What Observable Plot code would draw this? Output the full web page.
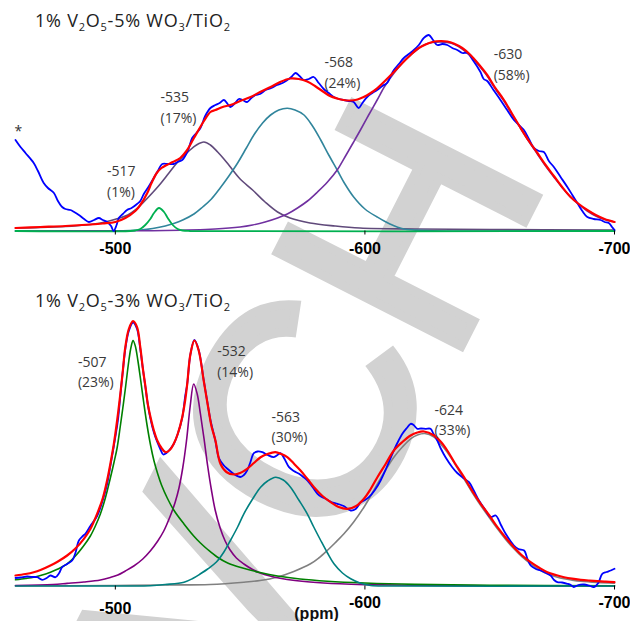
<!DOCTYPE html>
<html><head><meta charset="utf-8">
<script src="https://cdn.jsdelivr.net/npm/d3@7"></script>
<script src="https://cdn.jsdelivr.net/npm/@observablehq/plot@0.6"></script>
<style>
body{margin:0;background:#fff;}
#wrap{position:relative;width:630px;height:621px;overflow:hidden;background:#fff;}
#wm,#top,#bot{position:absolute;left:0;}
#wm{top:0;} #top{top:0;} #bot{top:265px;}
</style></head>
<body><div id="wrap"><svg id="wm" width="630" height="621"></svg><div id="top"></div><div id="bot"></div></div>
<script>
// ---------- data: [ppm, intensity] ----------
const topBlue = [[-460,91],[-462,84],[-464,78],[-467.3,68],[-469,60],[-471.3,48],[-473,43],[-475.4,38],[-477,30],[-478.7,24],[-480,22],[-482,21],[-483.5,19],[-485.4,16],[-487.5,12],[-489.4,9],[-491.5,11],[-493.4,13],[-495,11],[-496.7,9],[-498.3,5],[-499.3,0],[-500.5,6],[-501.4,13],[-503,17],[-504.7,21],[-506.5,23],[-508.7,27],[-510,30],[-511.4,37],[-513.5,45],[-515.4,53],[-517,60],[-518.8,67],[-521,67],[-523.4,67],[-525,69],[-526.8,71],[-529,80],[-530.8,93],[-532.5,98],[-534.1,103],[-536,115],[-538.1,123],[-540.1,126],[-541.8,128],[-543.5,131],[-545,127],[-546.1,124],[-548,128],[-549.5,132],[-551,131],[-552.8,129],[-554.5,133],[-556.2,136],[-558,137],[-560.2,141],[-562.5,143],[-564.8,146],[-567,148],[-568.9,151],[-570.5,154],[-572.2,158],[-573.8,155],[-575.5,151],[-577.5,152],[-579.5,154],[-581.5,148],[-583.5,142],[-585.5,138],[-587.5,134],[-589.5,132],[-591.5,131],[-593.5,130],[-595.5,129],[-597.5,123],[-599,128],[-600.9,134],[-603,138],[-604.9,141],[-607,145],[-608.9,148],[-610.3,155],[-611.6,161],[-613.6,167],[-615.6,173],[-617.6,177],[-619.6,181],[-621.6,186],[-623.6,193],[-625.6,196],[-627.3,191],[-629,186],[-631,187],[-633,186],[-635,183],[-637,181],[-639,178],[-641,178],[-643.5,170],[-646.3,159],[-647.6,152],[-649,150],[-651.5,141],[-654.3,131],[-657,121],[-659.7,111],[-661.7,106],[-663.7,101],[-665.7,92],[-667.7,83],[-669.7,80],[-671.7,79],[-673.7,70],[-675.7,64],[-678.4,54],[-681.1,44],[-683.1,36],[-685.1,28],[-687.1,20],[-689.1,14],[-691.7,12],[-694.4,11],[-696,9],[-697.7,8],[-699,4],[-700,1]];
const topRed = [[-460,3],[-470,4],[-480,5],[-490,6.5],[-495,7.5],[-500,9],[-504,13],[-508,20],[-510,26],[-512.8,38],[-514.5,48],[-516.6,58],[-518.5,63],[-520.6,66],[-523,69],[-526,73],[-528.5,80],[-531.5,93],[-535.5,110],[-538.1,119],[-540.1,121],[-543,124],[-546.1,126],[-550,130],[-554.2,134],[-558,139],[-562.2,144],[-566,149],[-570.2,152.5],[-573.5,152],[-576.9,149.5],[-580,145],[-583.5,139],[-586,135],[-588.9,132.5],[-591.5,131],[-594.2,130.5],[-597,131.5],[-599.5,134],[-602,137.5],[-604.9,142.7],[-608,150],[-611.6,159],[-615,168],[-618.3,176],[-621,182],[-624.3,186.5],[-627,189],[-630.3,190],[-633,189.5],[-635.6,187.5],[-639,183],[-642.3,176],[-645.5,167],[-649,156],[-652,144],[-655.7,131],[-659,117],[-662.4,103],[-665.7,90],[-669.1,78],[-672.4,66],[-675.7,55],[-679,44],[-682.4,34],[-685.7,27],[-689.1,21],[-692.5,16],[-696,12],[-700,9]];
const top630 = [[-460,0],[-500,0.3],[-520,0.5],[-540,2],[-550,4],[-555,6],[-560,9],[-565,13],[-568.9,17],[-573,23],[-577,30],[-581,39],[-585,49],[-588.9,61],[-592,74],[-595,87],[-598.2,101],[-601.5,116],[-604.9,131],[-608,145],[-611.6,157.7],[-615,168],[-618.3,176],[-621,181.5],[-623.6,186],[-627,188.5],[-630,189],[-633,188.5],[-636,186.5],[-639,182],[-642.3,175],[-645.5,166],[-649,155],[-652,143],[-655.7,130],[-659,116.5],[-662.4,102.5],[-665.7,89.5],[-669.1,77],[-672.4,65],[-675.7,54],[-679,43.5],[-682.4,34],[-685.7,26.5],[-689.1,20],[-692.5,15],[-696,11.5],[-700,9]];
const top568 = [[-460,0],[-500,0],[-510,1],[-515,2.5],[-520,5],[-523.4,7.5],[-527,11],[-531.5,17],[-535,24],[-538.5,32],[-542,43],[-545.5,55],[-549,68],[-552.5,83],[-555.5,96],[-559,108],[-562.2,116],[-565.5,121],[-568.9,122.7],[-572,121],[-575.6,116],[-579,105],[-582.3,91],[-585.5,76],[-588.9,61],[-592,47],[-595.5,34],[-600,22],[-604.9,14],[-610,7],[-615.6,2],[-625,0.5],[-640,0],[-700,0]];
const top535 = [[-460,3],[-470,3.5],[-480,4.5],[-488,6],[-495,8.5],[-501.4,12.7],[-505,16],[-508,21],[-511,28],[-514.7,37.7],[-518,47],[-521.4,57.7],[-525,69],[-529.5,80],[-532.5,86],[-535.5,89],[-538.1,86],[-541,79],[-543.5,72],[-546.1,64],[-550,52],[-555,41],[-560,29],[-565,19],[-570,13],[-578,8],[-588,5],[-598,3],[-620,2],[-650,1.5],[-700,1]];
const top517 = [[-460,0],[-506,0],[-508,0.5],[-510,2],[-512,6],[-514,12],[-515.5,18],[-517.5,23],[-519.5,19],[-521,13],[-523,6],[-525,2],[-527,0.5],[-530,0],[-700,0]];

const botBlue = [[-460,8],[-462,8.5],[-464.7,9.5],[-467,9],[-468.7,8.8],[-470.7,6.2],[-472.5,8],[-474,10.5],[-476,8.8],[-477.5,13],[-478.7,18.8],[-480.7,22],[-482.7,25.5],[-484,33],[-485.4,45.5],[-487,50],[-488,52.2],[-490,60],[-492.7,70],[-494.5,82],[-496.7,102],[-498,120],[-499.4,140],[-501,165],[-502,190],[-503,215],[-504,237],[-505.4,255],[-507.1,263.5],[-508.7,257],[-510,237],[-511,218],[-512.1,198],[-513,182],[-514.1,167],[-515.5,153],[-516.8,144],[-518,137],[-519.2,131.5],[-520.5,133],[-522,137],[-523.4,142],[-525,152],[-526.8,168],[-528,190],[-528.8,202],[-530.1,232],[-531.7,246],[-533.4,236],[-535.4,206],[-537.4,176],[-538.1,166],[-540.1,145],[-541.5,128],[-543.5,120.5],[-545,117],[-547.5,112],[-550.1,109],[-551.5,111],[-552.8,115.5],[-554,123],[-555.5,132.8],[-557,134.5],[-558.9,133.8],[-561,131],[-563.5,128.8],[-565,131],[-566.2,132.8],[-567.8,127],[-569.6,118.8],[-571.5,115],[-573.6,112.2],[-575.3,109],[-577,105.5],[-579,99],[-581,92.2],[-582.7,89],[-584.3,87.2],[-586.5,84],[-589,82.2],[-591.5,80],[-594.3,75.5],[-596.3,77],[-598.3,83.8],[-600,86],[-601.6,88.8],[-604,96],[-606.3,105.5],[-608.6,118],[-611,132.2],[-613,143],[-615,152.2],[-616.8,158],[-618.3,162.2],[-619.5,161],[-621,157.2],[-622.5,157.5],[-624.4,157.2],[-626.3,157.2],[-627.5,152],[-629,145.5],[-630.5,137],[-632.3,128.8],[-635,118.8],[-637,113],[-639,108.8],[-641.7,103.8],[-643.5,96],[-645.7,85.5],[-648,77],[-650.4,68.8],[-652.4,70.5],[-654.5,61],[-656.4,52.2],[-659.7,40.5],[-661.5,37],[-663.8,35.5],[-665,28],[-666.4,20.5],[-668.5,17],[-670.4,15.5],[-672.5,13],[-674.4,10.5],[-675.8,6],[-677.1,3.8],[-679,3.5],[-681.1,2.2],[-682.5,1],[-683.7,-1],[-685.5,1],[-687.8,1.5],[-689.8,0.5],[-691.8,-1],[-693.5,3],[-695.1,12.2],[-696.8,14],[-698.5,15.5],[-700,17.2]];
const botRed = [[-460,10.5],[-464,12],[-467.3,13.8],[-470,16],[-474,20.5],[-477,24.5],[-480.7,30.5],[-484,37.5],[-487.4,47.2],[-490,57],[-492.7,72.2],[-495,88],[-496.7,105.5],[-498,122],[-499.4,142],[-500.8,167],[-502,192],[-503,215],[-504,238.8],[-505.4,257],[-507.1,264.8],[-508.7,258.8],[-510,238.8],[-511,218],[-512.1,198.8],[-513,182],[-514.1,168.8],[-515.5,155],[-516.8,145.5],[-518.5,138],[-520.1,133.8],[-521.8,136],[-523.4,142.2],[-525,152],[-526.8,168.8],[-528,186],[-528.8,202],[-530.1,232],[-531.7,245.5],[-533.4,235.5],[-535.4,205.5],[-537.4,175.5],[-538.5,160],[-540.1,145.5],[-542.1,122.2],[-544.5,114],[-547.5,111.5],[-550,113],[-552.8,117.2],[-555.5,123],[-558.2,128.8],[-561,132],[-564.1,133.8],[-566.5,132],[-568.9,128.8],[-571.5,122.5],[-574.2,115.5],[-577,107],[-579.6,98.8],[-583,90],[-586.3,83.8],[-589.5,79],[-593,77.2],[-596.5,80],[-599.6,87.2],[-602.3,97],[-605,108.8],[-608.3,122],[-611.6,135.5],[-615,144],[-618.3,150.5],[-621,153.5],[-623.7,154.5],[-627.7,150.5],[-630.5,144],[-633,135.5],[-636,123],[-639.7,108.8],[-643,95],[-646.4,82.2],[-650,70],[-653.1,58.8],[-656.5,48],[-659.7,38.8],[-663,30.5],[-666.4,23.8],[-670,18],[-673.1,13.8],[-676.5,11],[-679.8,8.8],[-683,7.3],[-686.5,6.2],[-690,5.4],[-693.1,4.8],[-696.5,4.3],[-700,3.8]];
const bot507 = [[-460,6.2],[-464,7.5],[-467.3,8.8],[-470,10.5],[-474,13.8],[-477,17],[-480.7,22.2],[-484,30],[-487.4,40.5],[-490,50],[-492,60],[-494,72],[-496,88],[-498,108],[-499.5,124],[-500.7,138],[-502,160],[-503,178],[-504,197],[-505.4,225],[-506.3,239],[-507.1,245.5],[-508,240],[-509,226],[-510.2,205],[-511.4,183],[-512.7,161],[-514.1,141],[-515.5,125],[-517,112],[-518.5,101],[-520.8,88],[-523.4,76],[-527.5,62],[-531.4,50],[-534.1,43],[-537,36.5],[-540.8,29],[-545,23],[-551,18],[-558,13.5],[-565,10],[-574,7],[-585,4.8],[-600,3],[-620,1.6],[-650,0.8],[-700,0.3]];
const bot532 = [[-460,0.5],[-475,1.5],[-480.7,2.6],[-487.4,4],[-494,6],[-498,8.5],[-501,11],[-504,15],[-507.4,20],[-511,27],[-514,35],[-517,45],[-519.4,55],[-522,70],[-524,84],[-525.5,98],[-527,118],[-528.5,145],[-530,180],[-531.4,202],[-532.8,192],[-534.1,172],[-535.5,148],[-537,120],[-538.5,96],[-540,76],[-542,58],[-544,45],[-546,36],[-548.5,28],[-551.5,22],[-555,16.5],[-558,13],[-562,10],[-566,7.8],[-572,5.5],[-578,4],[-590,2.2],[-600,1.4],[-620,0.7],[-650,0.3],[-700,0]];
const bot563 = [[-460,0],[-505,0],[-514,0.3],[-520,1.5],[-527.5,3.8],[-531,7.5],[-534.1,12.2],[-537,17],[-540.5,24],[-543.5,34],[-546.1,45.5],[-549,59],[-551.5,72.2],[-555,87],[-558.2,98.8],[-561,105],[-564.2,108.8],[-567.3,106],[-570.2,98.8],[-573.5,86],[-576.9,72.2],[-579.5,59],[-582.3,45.5],[-585,33],[-587.6,22.2],[-591,13],[-594.3,7.2],[-598,3],[-602.3,0.5],[-610,0],[-700,0]];
const bot624 = [[-460,0],[-480,0.3],[-500,0.5],[-520,1],[-538,1.5],[-551.5,3.8],[-558,5.5],[-564.8,8.8],[-571.5,14.5],[-578.2,22.2],[-581.5,28],[-584.9,35.5],[-588,43],[-591.6,52.2],[-595.5,64],[-599.6,78.8],[-602.3,90],[-605,102.2],[-608.3,116],[-611.6,128.8],[-615,139],[-618.3,147.2],[-621,151],[-624,152.5],[-627.7,148.8],[-630.3,142],[-633,133.8],[-636.3,121],[-639.7,107.2],[-643,93.5],[-646.4,80.5],[-649.8,68.5],[-653.1,57.2],[-656.4,46.5],[-659.7,37.2],[-663,29],[-666.4,22.2],[-669.7,16.5],[-673.1,12.2],[-676.5,9.3],[-679.8,7.2],[-683,5.9],[-686.5,4.8],[-693,3.6],[-700,2.8]];

const xTicks = [-500, -600, -700];
const topLabels = [
  {text: "-517\n(1%)", ppm: -496.7, h: 51},
  {text: "-535\n(17%)", ppm: -518.1, h: 125},
  {text: "-568\n(24%)", ppm: -583.8, h: 160},
  {text: "-630\n(58%)", ppm: -651.6, h: 168}
];
const botLabels = [
  {text: "-507\n(23%)", ppm: -485, h: 215.5},
  {text: "-532\n(14%)", ppm: -540.8, h: 226},
  {text: "-563\n(30%)", ppm: -562.6, h: 160.5},
  {text: "-624\n(33%)", ppm: -627.9, h: 167.5}
];
const topTitle = [["1% V",0],["2",1],["O",0],["5",1],["-5% WO",0],["3",1],["/TiO",0],["2",1]];
const botTitle = [["1% V",0],["2",1],["O",0],["5",1],["-3% WO",0],["3",1],["/TiO",0],["2",1]];
const axisLabel = "(ppm)";
const watermarkLetters = ["V", "C", "H"];

// ---------- drawing ----------
const X = d => d[0], Y = d => d[1];
const ln = (data, stroke, w) => Plot.line(data, {x: X, y: Y, stroke, strokeWidth: w, curve: "catmull-rom"});
const lab = (data) => Plot.text(data, {x: "ppm", y: "h", text: "text", textAnchor: "start", lineAnchor: "middle", lineHeight: 1.45, fontSize: 14, fontFamily: "Open Sans", fill: "#3a3a3a"});
const tickFont = {tickSize: 4, tickFormat: d => String(d), fontSize: 16, fontWeight: "bold", fontFamily: "Liberation Sans, Arial", label: null};

function addTitle(svg, y, parts) {
  const t = d3.select(svg).append("text").attr("x", 35).attr("y", y)
    .attr("text-anchor", "start")
    .attr("textLength", 195).attr("lengthAdjust", "spacing")
    .attr("font-family", "Open Sans").attr("font-size", 18).attr("fill", "#222");
  let shifted = false;
  for (const [s, sub] of parts) {
    const sp = t.append("tspan").text(s);
    if (sub) { sp.attr("font-size", 11); if (!shifted) { sp.attr("dy", 4); shifted = true; } }
    else if (shifted) { sp.attr("dy", -4); shifted = false; }
  }
}

const topPlot = Plot.plot({
  width: 630, height: 265, marginLeft: 15, marginRight: 16, marginTop: 0, marginBottom: 34.5,
  x: {domain: [-460, -700]}, y: {domain: [0, 230.5], axis: null},
  style: {background: "transparent", overflow: "visible"},
  marks: [
    ln(top535, "#604A7B", 1.6),
    ln(top568, "#31859C", 1.6),
    ln(top630, "#7030A0", 1.6),
    ln(top517, "#00B050", 1.8),
    ln(topBlue, "#0000FF", 1.8),
    ln(topRed, "#FF0000", 2.2),
    lab(topLabels),
    Plot.text(["*"], {frameAnchor: "left", dx: -1, dy: 16, fontSize: 14, fill: "#333", fontFamily: "Open Sans"}),
    Plot.axisX({ticks: xTicks, tickPadding: 8, ...tickFont})
  ]
});
addTitle(topPlot, 26.7, topTitle);
document.getElementById("top").appendChild(topPlot);

const botPlot = Plot.plot({
  width: 630, height: 356, marginLeft: 15, marginRight: 16, marginTop: 0, marginBottom: 35.5,
  x: {domain: [-460, -700]}, y: {domain: [0, 320.5], axis: null},
  style: {background: "transparent", overflow: "visible"},
  marks: [
    ln(bot624, "#808080", 1.6),
    ln(bot532, "#800080", 1.6),
    ln(bot507, "#008000", 1.6),
    ln(bot563, "#008080", 1.6),
    ln(botBlue, "#0000FF", 1.8),
    ln(botRed, "#FF0000", 2.2),
    lab(botLabels),
    Plot.axisX({ticks: xTicks.slice(1), tickPadding: 6.5, ...tickFont}),
    Plot.axisX({ticks: xTicks.slice(0, 1), tickPadding: 12.5, ...tickFont}),
    Plot.text([axisLabel], {frameAnchor: "bottom", lineAnchor: "middle", dx: 1.5, dy: 27.5, fontSize: 16, fontWeight: "bold", fontFamily: "Liberation Sans, Arial", fill: "#111"})
  ]
});
addTitle(botPlot, 41.7, botTitle);
document.getElementById("bot").appendChild(botPlot);

// watermark letters (background), each centred on its own spot and rotated
const wmCentres = [[203, 597], [297, 412], [402, 222]];
d3.select("#wm").selectAll("text").data(watermarkLetters).join("text")
  .text(d => d)
  .attr("transform", (d, i) => `translate(${wmCentres[i][0]},${wmCentres[i][1]}) rotate(-63)`)
  .attr("x", 0).attr("y", 109).attr("text-anchor", "middle")
  .attr("font-family", "Liberation Sans").attr("font-size", 300)
  .attr("fill", "#d2d2d2").attr("stroke", "#d2d2d2").attr("stroke-width", 9);
</script></body></html>
